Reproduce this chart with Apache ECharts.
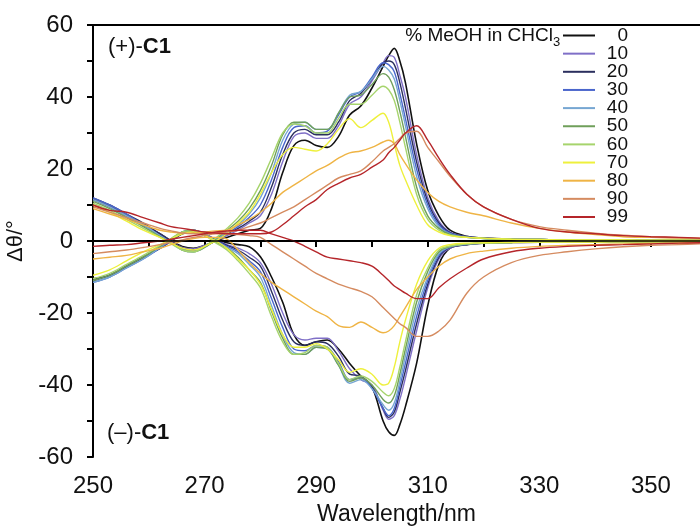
<!DOCTYPE html>
<html><head><meta charset="utf-8">
<script src="https://cdn.jsdelivr.net/npm/echarts@6/dist/echarts.min.js"></script>
<style>html,body{margin:0;padding:0;background:#fff}#c{width:700px;height:527px}</style>
</head><body><div id="c"></div>
<script>
// Wavelength sample points (nm)
const wavelengths = [250,253,256,259,262,264,266,268,270,272,274,276,278,280,282,284,286,288,290,292,294,296,298,300,302,303,304,305,306,308,310,312,314,317,320,325,330,335,340,345,350,355,359];

// % MeOH in CHCl3
const names = ['0','10','20','30','40','50','60','70','80','90','99'];

// (+)-C1 spectra
const pos0  = [11.5,9.5,7,4.5,2,0,-1.5,-2,-1.2,0,1,2,3, 3.5,9,19,26.5,28,26.5,26,29,35,37.5,42.5,48.5, 51.5,53.5,50,44,27,14, 7,3,1.3,0.8,0.5,0.4,0.3,0.3,0.3,0.2,0.2,0.2];
const pos10 = [11.5,9.5,7,4.5,2,0,-1.8,-2.2,-1.2,0,1.5,3,5, 7,13,22,29,30,28.5,28.5,32,38,40,44.5,49.5, 51.5,51,46,40,24,12, 5.5,2.5,1.2,0.8,0.5,0.4,0.3,0.3,0.3,0.2,0.2,0.2];
const pos20 = [12,10,7.5,5,2,0,-2,-2.5,-1.5,0,2,3.5,5.5, 8,15,24,30,31,29.5,29.5,33,39,41,45,49.5, 50,49,44,37,22,11, 5,2.3,1.2,0.8,0.5,0.4,0.3,0.3,0.3,0.2,0.2,0.2];
const pos30 = [12,10,7.5,4.5,1.5,-0.3,-2.2,-2.8,-1.5,0.2,2.2,4,6.5, 10,17,26,31.5,32,30,30.5,35,40,41.5,45.5,49.5, 49,47,41,34,20,10, 4.5,2.2,1.1,0.8,0.5,0.4,0.3,0.3,0.3,0.2,0.2,0.2];
const pos40 = [11.5,9.5,7,4.5,1.5,-0.5,-2.5,-3,-1.8,0.3,2.5,4.5,7.5, 12,19,28,32.5,33,31,31,35.5,40.5,41.5,45,48.5, 47.5,45,39,32,18,9, 4,2,1,0.7,0.5,0.4,0.3,0.3,0.3,0.2,0.2,0.2];
const pos50 = [11,9,6.5,4,1.2,-0.5,-2.5,-3,-1.8,0.5,3,5.5,9, 14,21,29.5,33,33,31,31,35.5,40,40.5,43.5,46.5, 45.5,42,36,29,15,7, 3.5,1.8,1,0.7,0.5,0.4,0.3,0.3,0.3,0.2,0.2,0.2];
const pos60 = [10.5,8.5,6,3.5,1,-0.8,-2.5,-3,-1.5,0.8,3.5,6.5,10.5, 16,23,30,32.5,32,30,30,34,38,38,40.5,43, 42,39,33,26,13,6, 3,1.6,1,0.7,0.5,0.4,0.3,0.3,0.3,0.2,0.2,0.2];
const pos70 = [10,8,5.5,3,1,-0.5,-2,-2.5,-1.5,0,2,5,8, 13,19,24,26,25.5,25,27,31,34,31.5,33.5,35.5, 33,27,21,17,10,4.5, 2.5,1.5,1,0.8,0.5,0.4,0.3,0.3,0.3,0.2,0.2,0.2];
const pos80 = [9,7.5,6,4.5,3,2.5,2.2,2.2,2.5,2.8,3,4.5,6, 8,10.5,13.5,15.5,17.5,19.5,21,23,24.5,25,26,27.5, 28,27,24,21.5,17,13.5, 11,9.5,8,7,5,3.5,2.5,1.8,1.2,1,0.8,0.7];
const pos90 = [9.5,8,6.5,5,3.5,2.8,2.2,2,2,2.2,2.5,3,4, 5,6.5,8,9.5,11.5,13.5,15.5,17.5,18.5,19.5,22,25, 26,27,28.5,30,30.5,26, 22,18,13,9.5,6,4,3,2.2,1.6,1.2,0.9,0.7];
const pos99 = [10,8.5,8,6.5,5,4,3.5,3,2.5,2.2,2,2,2, 2,2.5,4.5,7,9.5,11.5,14.3,16,17.5,18.5,20.5,22.5, 24.5,26,28,30,32,28, 23,18.5,13,9.5,6,3.5,2.5,2,1.5,1.2,1,0.8];

// (-)-C1 spectra
const neg0  = [-10.5,-9.5,-7,-4.5,-2,0,2,2.5,1.5,0.3,-0.5,-1,-1.6, -4.4,-10,-17,-26,-29,-28,-27.5,-30,-34,-37.5,-40.5,-50, -53,-54,-51,-46,-34,-18, -6.5,-2,-1,-0.6,-0.4,-0.3,-0.3,-0.3,-0.2,-0.2,-0.2,-0.2];
const neg10 = [-11,-9.5,-7,-4.5,-2,0,2.2,2.8,2,0.5,-1,-2,-3.5, -6,-12,-20,-26,-27.5,-27,-27,-30.5,-35.5,-38.5,-40,-47, -49.5,-48.5,-44,-38,-25,-13, -5,-2,-1,-0.6,-0.4,-0.3,-0.3,-0.3,-0.2,-0.2,-0.2,-0.2];
const neg20 = [-11,-9.5,-7,-4.5,-2,0.2,2.3,3,2,0.3,-1.2,-2.5,-4.5, -7,-14,-22,-28,-29,-28,-28.5,-32,-37,-37.5,-40.5,-46.5, -49,-47.5,-42,-36,-23,-12, -4.5,-1.8,-1,-0.6,-0.4,-0.3,-0.3,-0.3,-0.2,-0.2,-0.2,-0.2];
const neg30 = [-11.5,-10,-7.5,-5,-2,0.3,2.5,3,2,0.2,-1.5,-3,-5.5, -8.5,-16,-24,-30,-30.5,-29,-29.5,-33.5,-38.5,-38,-41,-46.5, -48.5,-46.5,-40.5,-34,-21,-11, -4,-1.7,-0.9,-0.6,-0.4,-0.3,-0.3,-0.3,-0.2,-0.2,-0.2,-0.2];
const neg40 = [-11.5,-10,-7.5,-5,-1.8,0.5,2.5,3,2,0,-1.8,-3.5,-6.5, -10,-18,-26,-31,-31.5,-29.5,-30,-34.5,-39.5,-38.5,-41,-45.5, -47,-45,-39,-32,-19,-10, -3.5,-1.6,-0.9,-0.6,-0.4,-0.3,-0.3,-0.3,-0.2,-0.2,-0.2,-0.2];
const neg50 = [-11,-9.5,-7,-4.5,-1.5,0.5,2.5,3,1.8,-0.2,-2,-4.5,-8, -11.5,-19.5,-27,-31.5,-31.5,-29.5,-30,-34.5,-39,-38,-40,-44, -45,-43,-37,-30,-17,-8.5, -3,-1.5,-0.8,-0.6,-0.4,-0.3,-0.3,-0.3,-0.2,-0.2,-0.2,-0.2];
const neg60 = [-10.5,-9,-6.5,-4,-1.2,0.7,2.5,2.8,1.5,-0.5,-2.5,-5.5,-9, -13,-21,-28,-31.5,-31,-29,-29.5,-34,-38.5,-37.5,-39,-42, -43,-41,-35,-28,-15,-7.5, -2.5,-1.4,-0.8,-0.6,-0.4,-0.3,-0.3,-0.3,-0.2,-0.2,-0.2,-0.2];
const neg70 = [-9.5,-8,-5.5,-3,-1,0.5,2,2.5,1.5,0,-2,-5,-8, -12,-19,-26,-29.5,-29.5,-28.5,-30,-33,-36.5,-35.5,-37,-40, -39.5,-35,-28,-22,-12,-5.5, -2,-1,-0.6,-0.5,-0.4,-0.3,-0.3,-0.3,-0.2,-0.2,-0.2,-0.2];
const neg80 = [-5,-4.5,-4,-3,-2,-1,0,0.7,1,1,0.5,-2.5,-6, -9,-11.5,-13.5,-15.5,-17.5,-19.5,-21,-23.5,-24,-22.5,-24,-25.5, -25,-23.5,-21,-18.5,-13.5,-10, -7,-5,-3.5,-2.8,-2,-1.5,-1.2,-1,-0.8,-0.7,-0.6,-0.5];
const neg90 = [-3.5,-3,-2.5,-1.8,-1,-0.3,0.3,1,1.5,2,2,1.8,1.5, 1,-1,-3,-5,-7,-9,-10.5,-12,-13,-14,-15.5,-18.5, -20,-21.5,-23,-24,-26.5,-26.5, -25,-22,-14.5,-10,-6,-4,-3,-2.2,-1.6,-1.2,-1,-0.8];
const neg99 = [-1.5,-1.2,-1,-0.5,0,0.5,1,1.5,2,2.5,2.8,3,3, 3,2,1,0,-1.5,-3,-4.5,-5,-5.5,-6,-7,-9.5, -11,-12.5,-13.5,-14.5,-16,-16, -13,-10.5,-7.5,-5,-3,-2,-1.5,-1.2,-1,-0.8,-0.6,-0.5];

const posSeries = [pos0,pos10,pos20,pos30,pos40,pos50,pos60,pos70,pos80,pos90,pos99];
const negSeries = [neg0,neg10,neg20,neg30,neg40,neg50,neg60,neg70,neg80,neg90,neg99];
const colors = ['#111111','#7f6fc7','#2b2f5e','#4a66cc','#76a6d2','#6f9f5a','#a6d46c','#eef03c','#efb445','#d58b60','#b5252a'];

const FONT = '"Liberation Sans", Arial, Helvetica, sans-serif';
const chart = echarts.init(document.getElementById('c'), null, {renderer: 'canvas'});

const series = [];
names.forEach((n, i) => {
  [posSeries[i], negSeries[i]].forEach(arr => {
    series.push({
      type: 'line', name: n,
      data: wavelengths.map((w, j) => [w, arr[j]]),
      showSymbol: false, symbol: 'none', smooth: 0.35,
      lineStyle: {color: colors[i], width: i === 0 ? 1.6 : 1.4},
      itemStyle: {color: colors[i]},
      silent: true, z: 3
    });
  });
});
series[0].markLine = {
  silent: true, symbol: 'none', label: {show: false}, animation: false,
  lineStyle: {color: '#000', width: 1.5, type: 'solid'},
  data: [{yAxis: 0}]
};

const option = {
  animation: false,
  backgroundColor: '#fff',
  textStyle: {fontFamily: FONT},
  grid: {left: 93, right: 0, top: 25, bottom: 70, containLabel: false, outerBoundsMode: 'none'},
  xAxis: [{
    type: 'value', min: 250, max: 358.8, interval: 10, position: 'bottom',
    axisLine: {show: true, lineStyle: {color: '#000', width: 2}},
    axisTick: {show: true, inside: false, length: 6, lineStyle: {color: '#000', width: 2}},
    axisLabel: {formatter: v => ((v - 250) % 20 === 0 ? String(v) : ''), fontSize: 24, color: '#111', margin: 17, fontFamily: FONT, showMaxLabel: false},
    splitLine: {show: false},
    name: 'Wavelength/nm', nameLocation: 'middle', nameGap: 44,
    nameTextStyle: {fontSize: 23, color: '#111', fontFamily: FONT}
  }, {
    type: 'value', min: 250, max: 358.8, position: 'top',
    axisLine: {show: true, lineStyle: {color: '#000', width: 2}},
    axisTick: {show: false}, axisLabel: {show: false}, splitLine: {show: false}
  }],
  yAxis: {
    type: 'value', min: -60, max: 60, interval: 10,
    axisLine: {show: true, lineStyle: {color: '#000', width: 2}},
    axisTick: {show: true, inside: false, length: 6, lineStyle: {color: '#000', width: 2}},
    axisLabel: {formatter: v => (v % 20 === 0 ? String(v) : ''), fontSize: 24, color: '#111', margin: 20, fontFamily: FONT},
    splitLine: {show: false},
    name: 'Δθ/°', nameLocation: 'middle', nameGap: 60, nameRotate: 90,
    nameTextStyle: {fontSize: 22, color: '#111', fontFamily: FONT}
  },
  legend: {
    data: names, orient: 'vertical', left: 563, top: 26, padding: 0,
    itemWidth: 32, itemHeight: 2, icon: 'rect', itemGap: -0.85, selectedMode: false,
    formatter: '{n|{name}}',
    textStyle: {fontSize: 19, fontFamily: FONT, color: '#111',
      rich: {n: {width: 28, align: 'right', fontSize: 19, fontFamily: FONT, color: '#111'}}}
  },
  graphic: [
    {type: 'text', x: 553, y: 36, style: {text: '% MeOH in CHCl', font: '19px ' + FONT, fill: '#111', align: 'right', verticalAlign: 'middle'}},
    {type: 'text', x: 553, y: 42, style: {text: '3', font: '13px ' + FONT, fill: '#111', align: 'left', verticalAlign: 'middle'}},
    {type: 'text', x: 108, y: 47, style: {text: '(+)-{b|C1}', font: '22px ' + FONT, fill: '#111', verticalAlign: 'middle',
      rich: {b: {fontWeight: 'bold', fontSize: 22, fontFamily: FONT, fill: '#111'}}}},
    {type: 'text', x: 107, y: 433, style: {text: '(\u2013)-{b|C1}', font: '22px ' + FONT, fill: '#111', verticalAlign: 'middle',
      rich: {b: {fontWeight: 'bold', fontSize: 22, fontFamily: FONT, fill: '#111'}}}}
  ],
  series: series
};
chart.setOption(option);
</script>
</body></html>
